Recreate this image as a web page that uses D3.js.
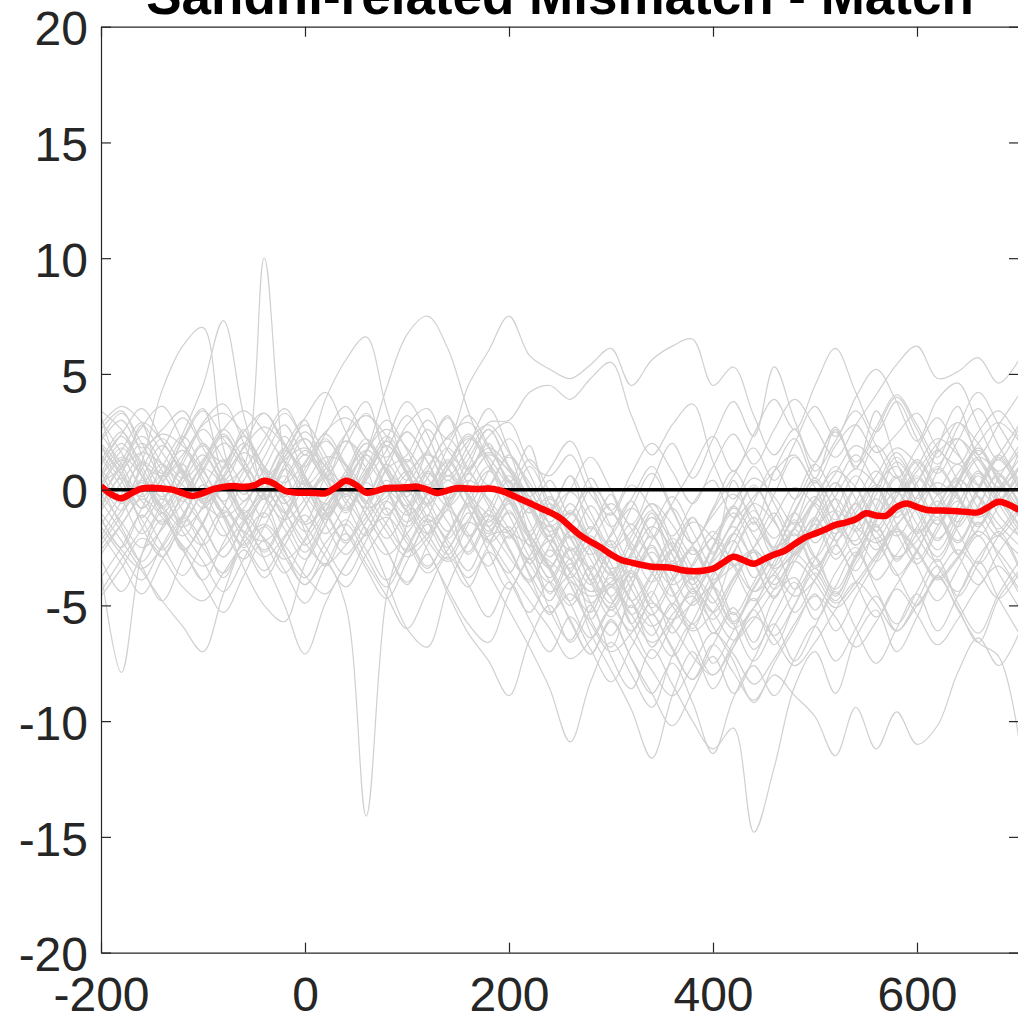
<!DOCTYPE html>
<html>
<head>
<meta charset="utf-8">
<script src="https://cdn.jsdelivr.net/npm/d3@7"></script>
<style>
  body { margin: 0; background: #fff; }
  svg { display: block; font-family: "Liberation Sans", Arial, sans-serif; }
</style>
</head>
<body>
<svg width="1018" height="1020"></svg>
<script>
// sample times (ms) of the individual grey traces
var traceTimes = [-200, -180, -160, -140, -120, -100, -80, -60, -40, -20, 0, 20, 40, 60, 80, 100,
    120, 140, 160, 180, 200, 220, 240, 260, 280, 300, 320, 340, 360, 380, 400, 420, 440, 460, 480,
    500, 520, 540, 560, 580, 600, 620, 640, 660, 680, 700];

// individual difference waves (grey), one row per trace
var grayTraces = [
  [1.5, 0.4, -1.2, 0.3, 1.1, -0.6, 0.2, 1.0, 10.0, 1.2, -1.4, 0.6, 2.1, 0.9, -1.1, 0.4, 1.6, -0.4, -2.0, -0.8, 0.6, -1.4, -2.9, -1.8, -3.9, -2.7, -4.8, -3.6, -2.1, -3.4, -4.9, -2.8, -1.2, -2.6, -0.9, 0.4, -1.6, -2.2, 0.1, 1.0, -0.6, -2.1, -1.0, 0.6, -1.1, -2.0],
  [-2.0, -0.5, 1.2, 0.4, -1.5, -2.4, -0.8, 0.9, -0.3, -2.6, -4.1, -3.2, -5.0, -14.1, -4.6, -1.5, 0.8, -0.7, -2.8, -1.2, 0.4, -2.0, -4.5, -3.0, -5.6, -6.8, -4.2, -2.5, -4.4, -6.0, -3.8, -1.9, -3.1, -4.7, -2.4, -0.6, -2.2, -3.5, -1.4, 0.5, -1.0, -2.6, -1.1, 0.7, -0.4, -1.8],
  [0.5, 1.8, 0.6, -1.0, 0.3, 1.5, 0.2, -1.3, -0.2, 1.4, 2.2, 0.7, -0.9, 0.5, 1.9, 0.6, -1.2, -2.5, -1.0, -2.7, -4.3, -3.0, -5.2, -6.5, -5.0, -7.2, -8.6, -6.9, -8.4, -10.0, -11.2, -10.3, -14.8, -12.0, -8.5, -7.0, -8.8, -6.4, -5.2, -7.0, -5.5, -3.8, -5.1, -6.6, -4.7, -3.5],
  [-3.5, -7.9, -2.8, -1.0, -2.6, -1.5, 0.3, -1.1, -2.7, -1.3, 0.4, -0.9, -2.2, -0.6, 1.1, -0.4, -1.9, -3.0, -1.5, 0.2, -1.1, -2.9, -4.0, -2.6, -3.9, -5.1, -3.4, -2.0, -3.7, -5.0, -3.6, -2.2, -3.8, -2.5, -1.0, -2.3, -0.9, 0.6, -0.8, -2.0, -0.7, 0.9, -0.3, -1.6, -0.2, 1.0],
  [0.8, -0.6, 1.2, 4.3, 6.2, 7.0, 1.8, -0.5, 0.9, 2.3, 0.6, -1.1, 0.4, 2.0, 0.8, -0.9, 0.5, 1.8, 0.2, -1.4, -0.3, -2.1, -3.4, -1.8, -3.0, -4.6, -2.9, -1.2, -2.8, -4.1, -2.5, -0.8, -2.0, -3.3, -1.6, 0.3, -0.9, -2.4, -0.7, 1.2, 0.0, -1.5, 0.4, 1.8, 0.5, -0.8],
  [2.0, 0.9, -0.8, 0.6, 2.4, 4.5, 7.3, 3.2, 0.5, -1.0, 0.7, 2.1, 1.0, -0.6, 0.9, 2.5, 1.2, -0.4, 1.0, 2.6, 0.9, -0.8, -2.2, -0.9, -2.4, -3.6, -2.0, -0.6, -2.2, -3.8, -2.4, -0.7, -1.8, -0.2, 1.4, 0.1, -1.3, 0.2, 1.9, 0.6, -0.9, 0.8, 2.2, 0.9, -0.5, 1.0],
  [1.2, 2.5, 1.0, -0.3, 1.1, 2.6, 1.3, -0.2, 1.4, 2.8, 1.5, 3.9, 5.6, 6.6, 3.5, 1.2, 2.6, 1.0, -0.6, 0.8, 2.2, 0.7, -0.9, 0.6, -1.0, -2.4, -0.8, 0.7, -0.9, -2.3, -0.8, 0.8, -0.7, -2.1, -0.5, 1.1, -0.4, -1.8, -0.2, 1.4, 0.0, -1.5, 0.2, 1.7, 0.3, -1.2],
  [-0.6, 0.7, 2.0, 0.8, -0.5, 0.9, 2.3, 1.0, -0.4, 1.1, 2.5, 1.2, -0.2, 1.6, 4.4, 6.7, 7.5, 6.1, 3.4, 1.2, -0.5, 1.0, -0.6, -2.1, -0.7, -2.3, -3.8, -2.2, -0.8, -2.4, -3.9, -2.3, -0.9, -2.5, -1.0, 0.5, -1.0, -2.4, -0.9, 0.6, -0.8, -2.2, -0.7, 0.8, -0.6, -2.0],
  [0.4, -0.9, 0.5, 1.9, 0.6, -0.8, 0.6, 2.0, 0.7, -0.6, 0.9, 2.2, 0.8, -0.5, 0.9, 1.5, 3.0, 2.2, 4.5, 6.0, 7.5, 5.8, 5.2, 4.8, 5.4, 6.1, 4.5, 5.6, 6.2, 6.5, 4.5, 5.3, 3.2, 1.5, 2.6, 0.8, 2.1, 3.4, 1.9, 0.5, 1.8, 3.1, 1.6, 0.2, 1.5, 2.8],
  [-1.5, -0.2, 1.1, -0.1, -1.4, 0.0, 1.3, 0.1, -1.2, 0.2, 1.5, 0.3, -1.0, 0.4, 1.7, 3.2, 1.8, 0.4, 1.6, 2.9, 3.0, 4.2, 4.5, 3.9, 4.8, 5.5, 3.2, 1.5, 2.8, 3.7, 1.2, -0.4, 1.0, -0.6, -2.0, -0.5, 1.0, -0.4, -1.8, -0.3, 1.2, -0.2, -1.6, -0.1, 1.4, 0.0],
  [0.7, 2.0, 0.6, -0.8, 0.5, 1.9, 0.4, -1.0, 0.3, 1.7, 0.2, -1.2, 0.1, 1.5, 0.0, -1.4, -0.1, 1.3, -0.2, -1.6, -0.3, -1.8, -0.4, -2.0, -3.4, -1.9, -0.5, -2.1, -0.6, 0.9, 2.3, 0.8, 2.4, 3.9, 2.6, 4.5, 6.1, 4.2, 2.5, 3.8, 2.2, 0.7, 2.1, 3.5, 1.9, 0.4],
  [-0.3, 1.0, 2.3, 1.1, -0.2, 1.2, 2.6, 1.3, -0.1, 1.4, 2.8, 1.5, 0.0, 1.6, 3.0, 1.7, 0.2, 1.8, 3.2, 1.9, 0.3, -1.0, 0.4, -1.1, 0.5, -0.9, 0.7, 2.0, 0.8, -0.6, 1.0, 2.4, 1.1, 2.6, 3.9, 2.7, 1.4, 2.8, 4.1, 5.4, 6.2, 4.8, 5.1, 5.7, 4.6, 5.6],
  [2.4, 1.1, -0.3, 1.0, 2.3, 0.9, -0.5, 0.8, 2.2, 3.5, 2.0, 0.6, 1.9, 3.3, 1.8, 0.4, 1.7, 3.1, 1.6, 0.2, 1.5, 0.1, -1.4, 0.0, 1.4, 0.0, -1.5, 0.3, 2.0, 0.5, 2.2, 3.8, 2.3, 5.3, 3.0, 1.2, 2.7, 1.0, 2.5, 4.0, 2.6, 1.1, 2.7, 4.2, 2.8, 1.3],
  [2.1, 3.0, 1.8, 2.6, 3.4, 2.0, 1.2, 2.5, 3.3, 1.9, 1.0, 2.4, 3.6, 2.2, 1.4, 2.8, 3.5, 1.7, 0.9, 2.3, 2.9, 1.2, 0.6, 1.5, -0.2, -1.1, 0.2, -0.8, -2.0, -0.6, 0.4, -1.2, -0.3, 0.8, 1.5, 0.3, 1.9, 2.8, 1.6, 2.4, 3.3, 1.8, 1.1, 2.5, 3.4, 2.2],
  [-1.6, -2.8, -3.9, -2.4, -1.2, -2.5, -3.6, -2.1, -1.0, -2.7, -3.8, -2.3, -1.5, -2.9, -4.2, -2.6, -1.3, -2.2, -3.5, -2.0, -1.9, -3.6, -4.8, -3.2, -4.9, -6.3, -5.0, -6.8, -5.4, -4.6, -6.2, -5.1, -6.6, -4.7, -3.8, -5.2, -3.6, -2.5, -3.9, -2.8, -1.7, -3.3, -4.4, -2.9, -2.0, -3.4],
  [3.2, 1.0, 2.8, 0.4, 2.2, 3.5, 0.9, 2.6, 0.1, 1.8, 3.0, 0.5, 2.4, 3.8, 1.1, -0.3, 1.7, 3.2, 0.8, 2.0, 0.3, 1.9, -0.8, 0.6, -1.7, -0.2, -2.6, -1.0, -3.1, -1.2, -2.8, 0.4, -1.5, 0.8, 2.2, 0.5, 2.6, 0.9, 3.4, 1.2, -0.4, 1.8, 3.6, 1.5, 2.8, 4.1],
  [-0.8, 0.5, -1.6, -2.9, -1.3, 0.2, -1.0, -2.4, -0.7, 0.6, -1.8, -3.3, -1.5, 0.3, -0.9, -2.7, -1.2, 0.4, -0.8, -2.3, -1.6, -3.2, -2.0, -4.1, -5.3, -3.6, -5.8, -4.4, -6.2, -4.8, -3.5, -5.4, -4.0, -2.6, -4.3, -3.0, -1.4, -2.9, -1.2, -0.1, -2.0, -3.1, -1.6, -0.3, -1.9, -2.8],
  [0.3, 0.9, 1.6, 1.1, 0.2, -0.6, -1.2, -0.5, 0.4, 1.3, 1.8, 1.0, 0.1, -0.8, -0.3, 0.7, 1.5, 0.9, -0.2, -1.1, -1.8, -2.4, -3.1, -3.9, -4.6, -4.2, -3.5, -4.8, -5.6, -4.9, -4.1, -3.3, -2.6, -3.4, -2.8, -1.7, -0.9, -1.6, -2.3, -1.5, -0.6, 0.3, -0.4, -1.2, -0.5, 0.6],
  [2.6, 3.4, 1.5, -0.4, 1.3, 2.9, 3.7, 2.0, 0.3, 1.6, 3.1, 4.2, 2.5, 0.8, 2.2, 3.8, 2.4, 0.6, 1.9, 3.5, 1.7, -0.3, 0.9, 2.1, 0.2, -1.6, -0.4, 1.0, -0.8, -2.3, -0.9, 0.6, 1.8, 0.4, 2.0, 3.6, 2.3, 4.0, 5.2, 3.8, 2.1, 3.9, 4.6, 2.8, 1.3, 2.7],
  [-1.2, -2.5, -0.8, 0.6, -0.9, -2.2, -3.8, -2.0, -0.4, -1.7, -3.0, -1.5, 0.2, -1.1, -2.6, -4.0, -2.4, -0.9, -2.1, -3.6, -5.2, -6.8, -8.6, -10.9, -8.3, -6.6, -8.0, -9.4, -7.2, -5.8, -7.5, -6.1, -4.7, -6.3, -5.0, -3.6, -4.8, -3.2, -2.1, -3.7, -2.6, -1.3, -2.8, -4.1, -2.7, -1.5],
  [0.9, -0.4, -1.9, -0.6, 0.8, -0.5, -2.0, -0.8, 0.5, -0.9, -2.4, -1.0, 0.6, -0.7, -2.1, -0.8, 0.7, -0.6, -1.9, -3.3, -2.0, -3.7, -5.4, -4.0, -6.2, -7.8, -9.5, -11.6, -8.9, -7.0, -8.6, -6.8, -5.2, -6.7, -5.0, -3.4, -4.6, -2.9, -1.6, -3.0, -1.9, -0.5, -1.8, -3.2, -2.0, -0.8],
  [-2.4, -1.1, 0.3, -1.0, -2.5, -3.9, -2.3, -0.9, -2.2, -3.6, -2.1, -0.6, -1.8, -3.4, -4.7, -3.1, -1.5, -2.8, -4.2, -2.7, -3.9, -5.3, -4.0, -5.7, -7.1, -5.6, -7.3, -8.8, -7.5, -9.2, -11.4, -9.0, -7.6, -8.9, -7.3, -5.9, -7.4, -6.0, -4.6, -6.1, -4.8, -3.3, -4.9, -6.2, -4.5, -3.1],
  [-3.0, -4.4, -2.8, -1.3, -2.6, -4.0, -5.3, -3.7, -2.2, -3.5, -4.9, -3.3, -1.9, -3.2, -4.6, -6.0, -4.4, -2.9, -4.1, -5.5, -4.0, -5.6, -7.0, -5.5, -6.9, -8.3, -6.8, -5.4, -6.9, -8.2, -6.7, -7.9, -9.1, -8.0, -8.9, -9.8, -11.5, -9.4, -11.2, -9.6, -11.0, -10.2, -7.9, -6.4, -7.6, -6.2],
  [1.0, 2.3, 0.8, -0.7, 0.6, 2.0, 0.5, -1.0, 0.3, 1.8, 0.4, -1.3, 0.1, 1.5, 0.0, -1.6, -0.2, 1.2, -0.4, -1.9, -0.6, -2.2, -3.8, -2.5, -4.0, -5.5, -4.1, -2.7, -4.3, -5.8, -4.2, -2.9, -4.4, -3.1, -1.7, -3.3, -2.0, -0.6, -2.2, -3.6, -5.0, -3.7, -5.2, -6.6, -7.2, -10.8],
  [-0.5, -1.8, -3.1, -1.6, -0.2, -1.5, -2.9, -1.4, 0.0, -1.3, -2.7, -1.2, 0.2, -1.1, -2.6, -4.1, -2.8, -4.5, -6.2, -7.4, -8.9, -6.5, -5.0, -6.6, -5.2, -3.8, -5.4, -4.0, -2.6, -4.2, -5.6, -4.1, -2.7, -4.3, -2.9, -1.5, -3.0, -1.7, -0.4, -1.9, -3.2, -1.8, -0.5, -2.0, -0.7, 0.6],
  [-1.0, -2.2, -3.5, -4.8, -5.9, -7.0, -4.5, -2.6, -3.8, -2.4, -1.1, -2.5, -3.7, -2.2, -0.8, -2.1, -3.4, -1.9, -0.6, -1.8, -0.5, -1.9, -3.3, -2.0, -3.5, -4.9, -3.6, -5.1, -3.8, -2.5, -4.0, -2.7, -1.4, -2.9, -1.6, -0.3, -1.7, -0.5, 0.8, -0.6, -1.9, -0.7, 0.5, -0.8, -2.0, -0.9],
  [-2.2, -0.9, 0.4, -0.8, -2.0, -0.7, 0.5, -1.2, -3.0, -5.0, -7.1, -4.9, -3.2, -1.8, -0.5, -1.9, -3.3, -2.0, -0.7, -2.2, -3.6, -2.1, -3.4, -4.8, -3.3, -4.7, -6.1, -4.6, -3.1, -4.5, -3.0, -1.6, -3.2, -4.6, -3.1, -1.7, -0.4, -1.8, -3.1, -1.6, -0.3, 1.0, -0.2, -1.5, 0.0, 1.3],
  [1.8, 0.6, -0.8, 0.5, 1.7, 0.3, -1.2, -3.4, -5.0, -5.7, -3.2, -1.5, -0.2, -1.8, -3.9, -6.0, -6.8, -4.2, -2.3, -0.9, -2.5, -3.9, -2.4, -1.0, -2.6, -4.1, -2.7, -1.2, -2.8, -4.3, -2.9, -1.4, 0.1, -1.3, -2.8, -1.2, 0.3, -1.1, -2.6, -1.0, 0.5, -0.9, -2.3, -0.8, 0.7, -0.6],
  [0.2, -1.6, -3.3, -4.8, -3.0, -1.4, 0.0, -1.3, -2.6, -1.1, 0.3, -1.0, -2.3, -0.9, 0.4, -1.0, -2.6, -4.3, -5.8, -6.6, -4.5, -2.9, -1.5, -3.0, -4.4, -2.9, -1.5, -3.1, -4.6, -3.2, -1.8, -3.3, -4.8, -3.3, -1.9, -3.4, -2.0, -0.6, -2.1, -0.8, 0.6, -0.8, -2.2, -0.7, 0.6, -0.7],
  [-0.4, 1.2, 2.7, 3.6, 2.1, 0.5, -1.0, 0.4, 1.9, 3.3, 2.0, 0.6, -0.8, 0.7, 2.1, 0.8, -0.6, 0.9, 2.3, 1.0, -0.4, -1.9, -3.5, -5.0, -3.6, -2.2, -3.9, -5.4, -4.0, -2.6, -4.2, -5.8, -4.3, -2.8, -1.4, -2.9, -4.3, -2.8, -1.3, -0.1, -1.5, -2.9, -1.4, 0.0, 1.3, 0.0],
  [3.0, 1.6, 0.3, 1.7, 3.1, 1.8, 0.4, 1.9, 3.3, 2.0, 0.5, -0.9, 0.6, 2.0, 0.7, -0.7, 0.8, 2.2, 0.9, -0.5, -1.8, -0.4, -1.9, -3.4, -2.0, -3.6, -5.1, -3.7, -2.3, -3.8, -5.3, -3.9, -2.5, -1.0, -2.6, -1.2, 0.3, -1.3, 0.1, 1.6, 0.2, -1.2, 0.3, 1.8, 0.4, -1.0],
  [-3.8, -2.5, -1.1, -2.4, -3.7, -2.3, -0.9, -2.2, -3.5, -2.1, -0.7, 0.6, -0.6, -2.0, -0.5, 0.8, -0.4, -1.8, -0.3, 1.0, -0.4, -1.9, -3.3, -4.9, -6.4, -5.0, -3.6, -5.2, -6.8, -8.2, -6.7, -5.3, -6.9, -5.4, -4.0, -5.6, -4.2, -2.7, -4.3, -5.8, -4.4, -3.0, -4.6, -3.2, -1.8, -3.3],
  [1.4, 0.1, -1.3, -2.6, -1.2, 0.2, -1.1, -2.5, -1.0, 0.4, 1.7, 0.5, -0.9, 0.6, 1.9, 0.7, -0.7, -2.1, -0.6, 0.8, -0.5, -2.0, -0.6, -2.1, -3.6, -5.2, -3.8, -2.4, -3.9, -2.5, -4.1, -5.7, -4.2, -2.8, -1.3, -2.9, -1.5, 0.0, -1.6, -0.1, 1.3, 0.0, -1.4, 0.1, 1.5, 0.2],
  [-1.9, -3.2, -4.5, -3.0, -1.6, -0.3, -1.7, -3.0, -1.6, -0.2, -1.5, -2.9, -4.2, -2.8, -1.4, -0.1, -1.4, -2.8, -1.3, 0.1, 1.4, 0.0, -1.5, -3.0, -1.6, -3.2, -4.8, -6.3, -4.9, -6.5, -8.0, -6.6, -5.1, -3.7, -5.3, -3.9, -2.4, -4.0, -5.5, -4.1, -2.7, -1.2, -2.8, -1.4, -2.9, -4.3],
  [0.0, 1.3, -0.1, -1.5, -0.2, 1.1, 2.4, 1.0, -0.4, 0.9, -0.5, -1.9, -0.6, 0.8, 2.1, 0.7, -0.7, 0.6, -0.8, -2.2, -0.9, -2.4, -1.0, -2.6, -4.1, -2.7, -4.3, -5.8, -7.2, -5.7, -4.2, -5.8, -7.4, -5.9, -4.4, -2.9, -4.5, -3.0, -1.5, -3.1, -1.6, -0.2, 1.1, -0.3, -1.7, -0.4],
  [2.2, 3.3, 2.0, 0.7, 2.1, 3.4, 2.2, 0.9, -0.4, 0.9, 2.2, 1.0, -0.3, 1.0, 2.3, 1.1, -0.2, 1.1, 2.4, 1.2, 0.0, 1.3, -0.1, -1.5, 0.0, -1.6, -3.1, -1.7, -0.3, -1.8, -3.3, -1.9, -0.5, 1.0, -0.4, 1.1, 2.5, 1.2, 2.7, 4.1, 2.8, 1.4, 2.9, 1.5, 0.1, 1.6],
  [-4.4, -3.0, -1.7, -0.4, -1.8, -3.1, -4.4, -3.0, -1.6, -2.9, -4.1, -2.7, -1.3, -2.6, -3.9, -2.5, -1.1, -2.4, -3.8, -2.4, -1.0, -2.5, -4.0, -5.6, -7.1, -5.7, -7.3, -8.8, -10.2, -8.7, -7.2, -8.8, -7.3, -5.8, -7.4, -5.9, -4.4, -6.0, -7.5, -6.0, -4.5, -6.1, -4.6, -3.1, -4.7, -6.2],
  [0.8, -0.5, 0.9, 2.2, 0.9, -0.4, 1.0, 2.3, 1.0, -0.3, 1.1, 2.4, 1.1, -0.2, 1.2, 2.5, 1.2, -0.1, 1.3, 2.6, 1.0, -0.5, -2.0, -0.6, -2.2, -3.7, -2.3, -0.9, -2.4, -3.9, -2.5, -1.0, -2.6, -4.1, -2.7, -1.2, -2.8, -1.4, 0.1, -1.5, -3.0, -1.6, -0.1, 1.3, -0.2, -1.6],
  [-2.8, -1.5, -0.2, 1.1, -0.3, -1.6, -2.9, -1.5, -0.1, 1.2, -0.2, -1.5, -2.8, -1.4, 0.0, 1.3, -0.1, -1.4, -2.7, -1.3, -2.6, -4.0, -2.6, -4.1, -5.6, -4.2, -5.8, -7.3, -5.8, -4.3, -5.9, -7.4, -9.2, -7.5, -6.0, -4.5, -6.1, -4.6, -3.1, -1.7, -3.3, -4.8, -3.4, -2.0, -3.6, -5.1],
  [1.1, 2.4, 3.5, 2.1, 0.8, -0.5, 0.9, 2.3, 0.9, -0.4, -1.8, -0.5, 0.8, 2.2, 0.8, -0.6, -1.9, -0.6, 0.7, -0.7, -2.1, -0.8, -2.3, -3.8, -2.4, -1.0, -2.5, -4.0, -2.6, -1.2, -2.7, -1.3, 0.2, -1.3, -2.8, -1.4, 0.1, 1.5, 0.2, -1.2, 0.3, 1.7, 0.4, -1.0, 0.5, 1.9],
  [-0.9, 0.3, 1.6, 2.4, 1.9, 0.8, -0.6, -1.8, -2.2, -1.3, 0.2, 1.4, 1.1, -0.2, -1.5, -2.6, -1.9, -0.4, 0.9, 1.6, 0.8, -0.7, -2.3, -3.5, -4.4, -4.0, -2.9, -3.6, -5.0, -6.1, -5.3, -3.8, -2.7, -3.5, -4.6, -3.9, -2.4, -1.1, -1.8, -2.9, -2.2, -0.8, 0.4, -0.3, -1.5, -2.4],
  [3.4, 2.6, 1.2, 0.6, 1.5, 2.8, 3.3, 2.4, 1.0, 0.3, 1.2, 2.5, 3.1, 2.2, 0.9, 0.2, 1.0, 2.3, 2.9, 1.8, 0.4, -0.8, -1.6, -1.0, -2.2, -3.4, -2.8, -1.6, -2.5, -3.8, -3.1, -1.9, -0.6, -1.4, -2.7, -1.8, -0.3, 0.9, 0.2, -1.0, 0.3, 1.6, 2.2, 1.3, 0.1, 0.9],
  [-4.6, -3.4, -2.1, -2.9, -4.2, -4.8, -3.6, -2.3, -1.5, -2.4, -3.7, -4.5, -3.2, -1.9, -1.2, -2.3, -3.6, -2.6, -1.4, -2.2, -3.5, -4.8, -6.0, -7.3, -6.5, -5.2, -6.4, -7.8, -8.9, -7.6, -6.2, -7.1, -8.4, -7.3, -5.8, -4.6, -5.5, -6.8, -5.7, -4.3, -5.4, -6.7, -5.6, -4.2, -3.3, -4.5],
  [0.6, 1.7, 2.9, 2.1, 0.7, -0.4, 0.5, 1.8, 2.7, 1.9, 0.6, -0.6, 0.4, 1.7, 2.6, 1.8, 0.5, -0.7, 0.3, 1.5, 0.8, -0.5, -1.8, -1.1, 0.1, -0.9, -2.3, -3.4, -2.6, -1.4, -2.1, -3.3, -2.5, -1.2, 0.1, -0.7, -1.9, -0.8, 0.6, 1.8, 1.1, -0.2, 0.7, 2.0, 2.9, 2.1],
  [-1.3, -2.6, -3.4, -2.5, -1.1, 0.2, -0.6, -1.9, -2.9, -2.0, -0.7, 0.5, -0.4, -1.7, -2.8, -1.9, -0.6, 0.6, -0.3, -1.6, -2.9, -4.1, -5.3, -4.5, -5.8, -7.0, -6.2, -4.9, -5.9, -7.2, -8.0, -6.8, -5.5, -6.4, -7.6, -6.6, -5.2, -4.0, -4.9, -6.1, -5.0, -3.7, -2.6, -3.5, -4.7, -3.6],
  [1.9, 0.7, -0.5, -1.4, -0.6, 0.8, 2.0, 1.2, -0.2, -1.3, -0.4, 0.9, 2.1, 1.3, 0.0, -1.1, -0.2, 1.1, 2.2, 1.4, 0.1, -1.0, -0.3, -1.6, -2.8, -2.0, -0.8, -1.9, -3.2, -2.4, -1.1, -0.2, -1.3, -2.5, -1.7, -0.4, 0.8, 0.1, -1.1, -0.3, 1.0, 2.2, 1.5, 0.2, -0.7, 0.4],
  [-0.2, -1.4, -2.5, -1.7, -0.3, 0.9, 0.2, -1.0, -2.1, -3.0, -2.2, -0.9, 0.3, -0.5, -1.8, -2.9, -2.1, -0.8, 0.4, -0.4, -1.7, -3.0, -2.2, -3.6, -4.9, -4.1, -5.4, -6.6, -5.7, -4.4, -5.3, -6.5, -5.6, -4.3, -3.1, -4.0, -5.1, -4.2, -2.9, -1.8, -2.7, -3.9, -3.0, -1.7, -0.6, -1.5],
  [2.8, 3.6, 2.9, 1.6, 0.5, 1.3, 2.6, 3.4, 2.5, 1.2, 0.2, 1.1, 2.4, 3.2, 2.3, 1.0, 0.0, 0.9, 2.1, 2.8, 1.6, 0.3, -0.9, -0.1, -1.3, -2.5, -1.8, -0.6, -1.5, -2.8, -2.0, -0.7, 0.5, -0.3, -1.5, -0.6, 0.7, 1.9, 1.1, -0.1, 0.8, 2.0, 2.9, 2.0, 0.8, 1.7],
  [-2.6, -1.5, -0.4, -1.2, -2.4, -3.3, -2.5, -1.3, -0.2, -1.0, -2.3, -3.2, -2.4, -1.2, -0.1, -0.9, -2.2, -3.1, -2.3, -1.1, -1.9, -3.2, -4.4, -3.6, -2.4, -3.5, -4.8, -5.9, -5.0, -3.8, -4.7, -6.0, -5.1, -3.9, -2.8, -3.7, -4.9, -4.0, -2.8, -1.7, -2.6, -3.8, -2.9, -1.8, -2.7, -3.9],
  [0.2, 1.4, 0.6, -0.7, -1.6, -0.8, 0.5, 1.6, 0.8, -0.5, -1.5, -0.7, 0.6, 1.7, 0.9, -0.4, -1.4, -0.6, 0.7, 1.8, 1.0, -0.3, -1.5, -2.6, -1.8, -0.6, -1.7, -3.0, -4.1, -3.3, -2.1, -3.2, -4.4, -3.6, -2.4, -1.3, -2.2, -1.0, 0.2, -0.6, -1.8, -0.9, 0.3, 1.4, 0.7, -0.5]
];

// grand average (red), 10 ms steps
var meanTimes = [-200, -190, -180, -170, -160, -150, -140, -130, -120, -110, -100, -90, -80, -70, -60,
    -50, -40, -30, -20, -10, 0, 10, 20, 30, 40, 50, 60, 70, 80, 90, 100, 110, 120, 130, 140, 150,
    160, 170, 180, 190, 200, 210, 220, 230, 240, 250, 260, 270, 280, 290, 300, 310, 320, 330, 340,
    350, 360, 370, 380, 390, 400, 410, 420, 430, 440, 450, 460, 470, 480, 490, 500, 510, 520, 530,
    540, 550, 560, 570, 580, 590, 600, 610, 620, 630, 640, 650, 660, 670, 680, 690, 700];
var meanValues = [0.15, -0.2, -0.37, -0.15, 0.05, 0.08, 0.05, 0.0, -0.15, -0.27, -0.15, 0.02, 0.12,
    0.16, 0.12, 0.18, 0.38, 0.25, -0.05, -0.12, -0.13, -0.14, -0.16, 0.1, 0.38, 0.2, -0.13, -0.05,
    0.07, 0.08, 0.1, 0.13, 0.0, -0.15, -0.03, 0.07, 0.05, 0.03, 0.05, -0.02, -0.18, -0.38, -0.58,
    -0.78, -0.98, -1.22, -1.6, -1.98, -2.25, -2.5, -2.8, -3.04, -3.15, -3.25, -3.33, -3.35, -3.38,
    -3.48, -3.52, -3.5, -3.42, -3.15, -2.9, -3.05, -3.2, -3.0, -2.8, -2.65, -2.35, -2.07, -1.9,
    -1.72, -1.52, -1.42, -1.28, -1.02, -1.12, -1.12, -0.75, -0.6, -0.75, -0.88, -0.9, -0.91, -0.93,
    -0.97, -0.98, -0.75, -0.52, -0.65, -0.88];

var xTicks = [-200, 0, 200, 400, 600];
var yTicks = [-20, -15, -10, -5, 0, 5, 10, 15, 20];
var chartTitle = "Sandhi-related Mismatch - Match";

var svg = d3.select("svg");
var plotLeft = 101, plotRight = 1019, plotTop = 26.7, plotBottom = 952.6;
var axisColor = "#262626";

var x = d3.scaleLinear().domain([-200, 700]).range([plotLeft, plotRight]);
var y = d3.scaleLinear().domain([-20, 20]).range([plotBottom, plotTop]);

svg.append("defs").append("clipPath").attr("id", "plot")
    .append("rect")
    .attr("x", plotLeft).attr("y", plotTop)
    .attr("width", plotRight - plotLeft).attr("height", plotBottom - plotTop);

var plot = svg.append("g").attr("clip-path", "url(#plot)");

var grayLine = d3.line()
    .x((d, i) => x(traceTimes[i]))
    .y(d => y(d))
    .curve(d3.curveCatmullRom.alpha(0.5));

plot.append("g")
    .selectAll("path")
    .data(grayTraces)
    .enter()
    .append("path")
    .attr("d", grayLine)
    .attr("fill", "none")
    .attr("stroke", "#d0d0d0")
    .attr("stroke-width", 1.2);

// zero line
plot.append("line")
    .attr("x1", x(-200)).attr("x2", x(700))
    .attr("y1", y(0)).attr("y2", y(0))
    .attr("stroke", "#000")
    .attr("stroke-width", 3.5);

var meanLine = d3.line()
    .x((d, i) => x(meanTimes[i]))
    .y(d => y(d))
    .curve(d3.curveCatmullRom.alpha(0.5));

plot.append("path")
    .datum(meanValues)
    .attr("d", meanLine)
    .attr("fill", "none")
    .attr("stroke", "#ff0000")
    .attr("stroke-width", 6.5)
    .attr("stroke-linejoin", "round");

// axes, MATLAB-style box with inward ticks
var tickLen = 10;
var plainNumber = d => String(d);
var axes = svg.append("g");

axes.append("g")
    .attr("transform", `translate(0,${plotBottom})`)
    .call(d3.axisBottom(x).tickValues(xTicks).tickFormat(plainNumber)
        .tickSizeInner(-tickLen).tickSizeOuter(0).tickPadding(24))
    .call(g => g.selectAll("text").attr("font-size", 48).attr("fill", axisColor).attr("dy", "0.72em"));

axes.append("g")
    .attr("transform", `translate(0,${plotTop})`)
    .call(d3.axisTop(x).tickValues(xTicks).tickSizeInner(-tickLen).tickSizeOuter(0).tickFormat(""));

axes.append("g")
    .attr("transform", `translate(${plotLeft},0)`)
    .call(d3.axisLeft(y).tickValues(yTicks).tickFormat(plainNumber)
        .tickSizeInner(-tickLen).tickSizeOuter(0).tickPadding(13))
    .call(g => g.selectAll("text").attr("font-size", 48).attr("fill", axisColor).attr("dy", "0.38em"));

axes.append("g")
    .attr("transform", `translate(${plotRight},0)`)
    .call(d3.axisRight(y).tickValues(yTicks).tickSizeInner(-tickLen).tickSizeOuter(0).tickFormat(""));

axes.selectAll(".domain").attr("stroke", axisColor).attr("stroke-width", 1.2);
axes.selectAll(".tick line").attr("stroke", axisColor).attr("stroke-width", 1.2);
axes.selectAll("text").attr("font-family", "'Liberation Sans', Arial, sans-serif");

svg.append("text")
    .attr("x", (plotLeft + plotRight) / 2)
    .attr("y", 14)
    .attr("text-anchor", "middle")
    .attr("font-size", 53)
    .attr("font-weight", "bold")
    .attr("fill", "#000")
    .text(chartTitle);
</script>
</body>
</html>
